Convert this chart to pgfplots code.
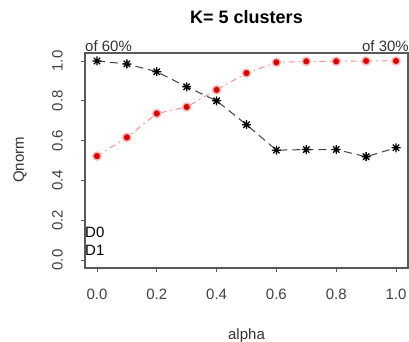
\documentclass[border=0pt]{standalone}
\usepackage{pgfplots}
\pgfplotsset{compat=1.18}
\usepackage{fontspec}
\setmainfont{Liberation Sans}
\pgfdeclareplotmark{rstar}{%
 \pgfpathmoveto{\pgfqpoint{-\pgfplotmarksize}{0pt}}\pgfpathlineto{\pgfqpoint{\pgfplotmarksize}{0pt}}%
 \pgfpathmoveto{\pgfqpoint{0pt}{-\pgfplotmarksize}}\pgfpathlineto{\pgfqpoint{0pt}{\pgfplotmarksize}}%
 \pgfpathmoveto{\pgfqpoint{-.707\pgfplotmarksize}{-.707\pgfplotmarksize}}\pgfpathlineto{\pgfqpoint{.707\pgfplotmarksize}{.707\pgfplotmarksize}}%
 \pgfpathmoveto{\pgfqpoint{-.707\pgfplotmarksize}{.707\pgfplotmarksize}}\pgfpathlineto{\pgfqpoint{.707\pgfplotmarksize}{-.707\pgfplotmarksize}}%
 \pgfusepathqstroke}
\begin{document}
\begin{tikzpicture}
\useasboundingbox (0pt,0pt) rectangle (409pt,341pt);
\begin{axis}[
  at={(85pt,73pt)}, anchor=south west,
  scale only axis, width=323pt, height=215pt,
  xmin=-0.04, xmax=1.04, ymin=-0.04, ymax=1.04,
  xtick={0,0.2,0.4,0.6,0.8,1}, ytick={0,0.2,0.4,0.6,0.8,1},
  minor tick num=0,
  tick align=outside, major tick length=4pt,
  xtick pos=bottom, ytick pos=left,
  axis line style={black!65, line width=1.1pt},
  tick style={black!65, line width=0.8pt},
  /pgf/number format/assume math mode=true,
  /pgf/number format/fixed, /pgf/number format/fixed zerofill, /pgf/number format/precision=1,
  ticklabel style={font=\fontsize{15}{18}\selectfont, text=black!75},
  xticklabel style={anchor=north, inner sep=0pt},
  xticklabel shift=17pt,
  yticklabel style={rotate=90, anchor=south, inner sep=0pt},
  yticklabel shift=18pt,
  clip=false,
]
\addplot[black!75, line width=1pt, dash pattern=on 8pt off 5pt, mark=rstar, mark size=4.5pt,
  mark options={solid, black, line width=1.3pt}] coordinates {
  (0.0,1.000) (0.1,0.985) (0.2,0.946) (0.3,0.870) (0.4,0.800) (0.5,0.680)
  (0.6,0.552) (0.7,0.555) (0.8,0.555) (0.9,0.519) (1.0,0.564)};
\addplot[red!45, line width=1pt, dash pattern=on 6pt off 4pt on 1.5pt off 4pt, mark=*, mark size=4pt,
  mark options={solid, fill=red!85!black, draw=red!30, line width=1.5pt}] coordinates {
  (0.0,0.522) (0.1,0.616) (0.2,0.736) (0.3,0.769) (0.4,0.855) (0.5,0.939)
  (0.6,0.993) (0.7,0.998) (0.8,0.998) (0.9,1.000) (1.0,1.000)};
\end{axis}
\node[font=\bfseries\fontsize{18}{21}\selectfont, inner sep=0pt] at (246.5pt,324pt) {K= 5 clusters};
\node[font=\fontsize{15}{18}\selectfont, text=black!80, inner sep=0pt, anchor=base west] at (85pt,289.5pt) {of 60\%};
\node[font=\fontsize{15}{18}\selectfont, text=black!80, inner sep=0pt, anchor=base east] at (409pt,289.5pt) {of 30\%};
\node[font=\fontsize{15}{18}\selectfont, inner sep=0pt, anchor=base west] at (85pt,104pt) {D0};
\node[font=\fontsize{15}{18}\selectfont, inner sep=0pt, anchor=base west] at (85pt,86pt) {D1};
\node[font=\fontsize{15}{18}\selectfont, text=black!80, inner sep=0pt, rotate=90] at (20pt,181pt) {Qnorm};
\node[font=\fontsize{15}{18}\selectfont, text=black!80, inner sep=0pt, anchor=base] at (246.5pt,2pt) {alpha};
\end{tikzpicture}
\end{document}
